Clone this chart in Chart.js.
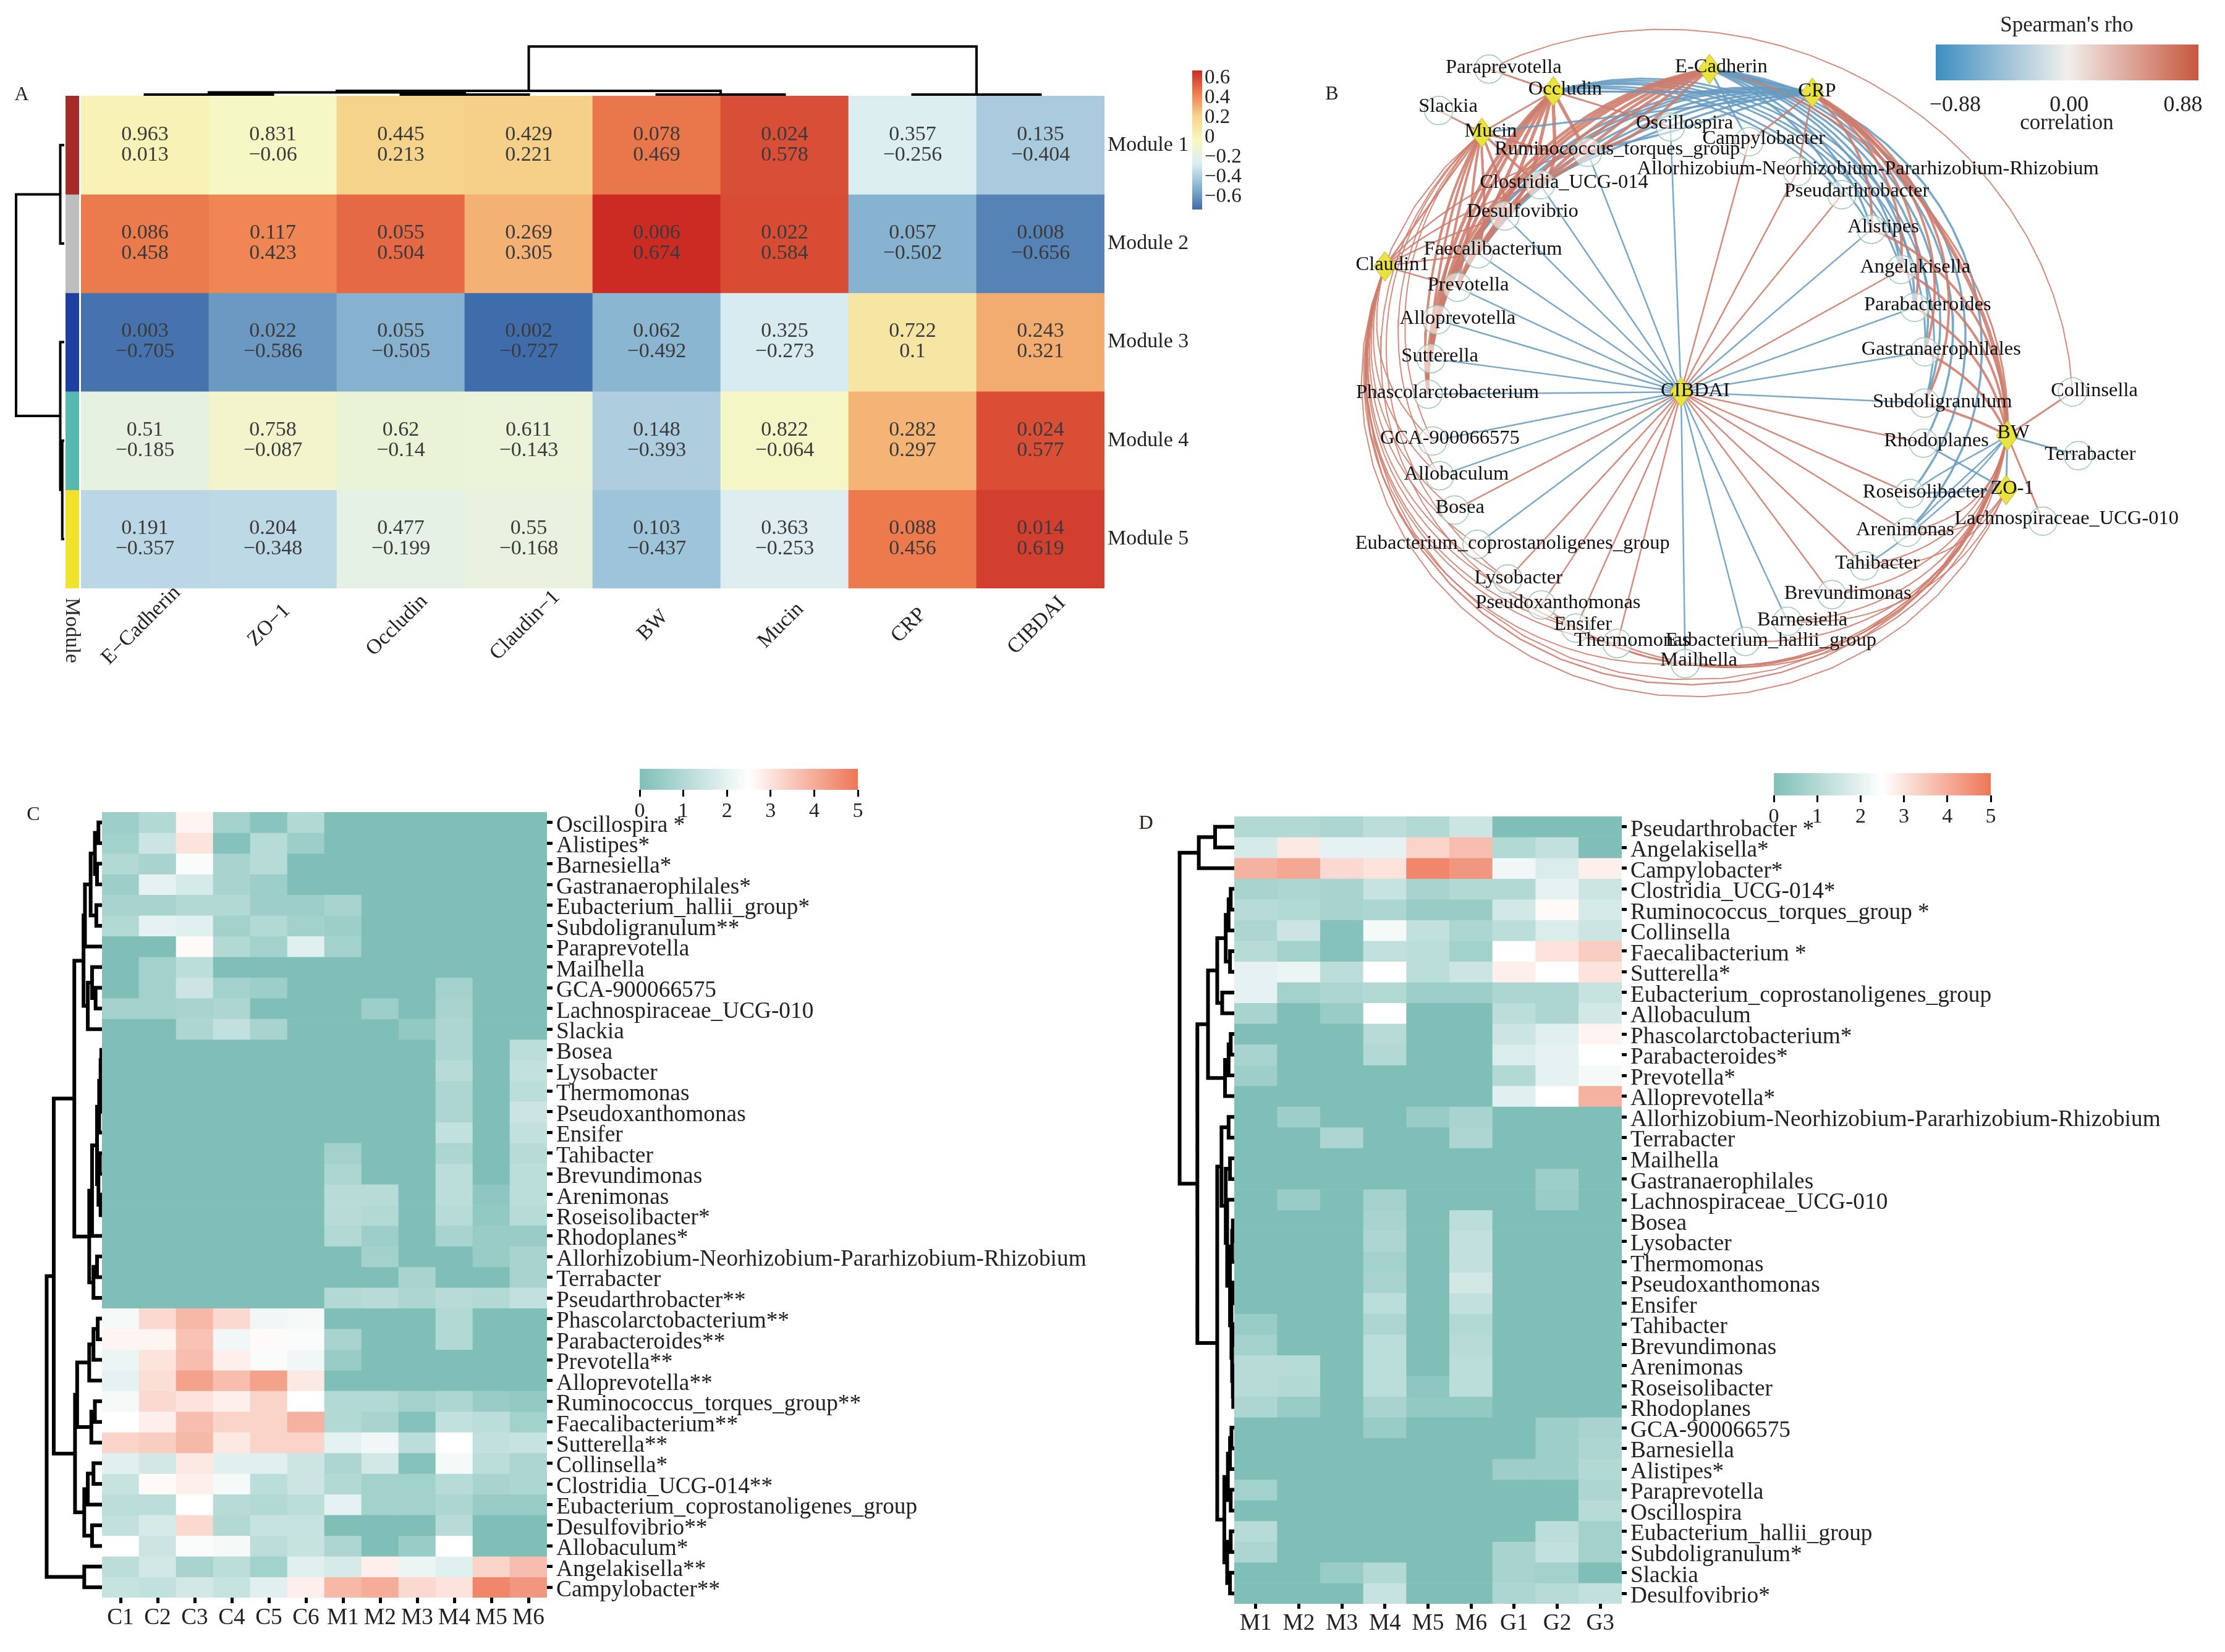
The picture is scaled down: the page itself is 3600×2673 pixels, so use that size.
<!DOCTYPE html>
<html><head><meta charset="utf-8">
<script src="https://cdn.jsdelivr.net/npm/chart.js@4"></script>
<style>
html,body{margin:0;padding:0;background:#fff}
#page{position:relative;width:3600px;height:2673px;background:#fff;overflow:hidden;font-family:'Liberation Serif',serif;color:#222}
canvas{position:absolute}
.t{position:absolute;transform:translate(-50%,-50%);white-space:nowrap}
</style></head><body><div id="page"></div>
<script>
/* ---------- Panel A data ---------- */
const aMarkers=["E−Cadherin","ZO−1","Occludin","Claudin−1","BW","Mucin","CRP","CIBDAI"];
const aModules=["Module 1","Module 2","Module 3","Module 4","Module 5"];
const aRho=[
[0.013,-0.06,0.213,0.221,0.469,0.578,-0.256,-0.404],
[0.458,0.423,0.504,0.305,0.674,0.584,-0.502,-0.656],
[-0.705,-0.586,-0.505,-0.727,-0.492,-0.273,0.1,0.321],
[-0.185,-0.087,-0.14,-0.143,-0.393,-0.064,0.297,0.577],
[-0.357,-0.348,-0.199,-0.168,-0.437,-0.253,0.456,0.619]];
const aP=[
[0.963,0.831,0.445,0.429,0.078,0.024,0.357,0.135],
[0.086,0.117,0.055,0.269,0.006,0.022,0.057,0.008],
[0.003,0.022,0.055,0.002,0.062,0.325,0.722,0.243],
[0.51,0.758,0.62,0.611,0.148,0.822,0.282,0.024],
[0.191,0.204,0.477,0.55,0.103,0.363,0.088,0.014]];
const aColorTicks=[0.6,0.4,0.2,0,-0.2,-0.4,-0.6];
const aModuleColors=["#A52A2A","#BEBEBE","#1E409E","#58B9B1","#EFE32E"];
const aTopTree=[118,[12,[8,[3,0,1],[3,2,3]],[3,4,5]],[3,6,7]];
const aLeftTree=[60,[5,0,1],[5,2,[2.5,3,4]]];

/* ---------- Panels C and D data ---------- */
const cCols=["C1","C2","C3","C4","C5","C6","M1","M2","M3","M4","M5","M6"];
const cRows=["Oscillospira *","Alistipes*","Barnesiella*","Gastranaerophilales*","Eubacterium_hallii_group*","Subdoligranulum**","Paraprevotella","Mailhella","GCA-900066575","Lachnospiraceae_UCG-010","Slackia","Bosea","Lysobacter","Thermomonas","Pseudoxanthomonas","Ensifer","Tahibacter","Brevundimonas","Arenimonas","Roseisolibacter*","Rhodoplanes*","Allorhizobium-Neorhizobium-Pararhizobium-Rhizobium","Terrabacter","Pseudarthrobacter**","Phascolarctobacterium**","Parabacteroides**","Prevotella**","Alloprevotella**","Ruminococcus_torques_group**","Faecalibacterium**","Sutterella**","Collinsella*","Clostridia_UCG-014**","Eubacterium_coprostanoligenes_group","Desulfovibrio**","Allobaculum*","Angelakisella**","Campylobacter**"];
const cValues=[
[.6,1,2.7,.7,.2,1,0,0,0,0,0,0],
[.7,1.5,3,.1,1.1,.6,0,0,0,0,0,0],
[1,.8,2.4,.8,1.1,0,0,0,0,0,0,0],
[.6,2,1.7,.8,.6,0,0,0,0,0,0,0],
[.8,.8,1,1,.6,.6,.8,0,0,0,0,0],
[1,2,1.9,.7,1,.7,.6,0,0,0,0,0],
[0,0,2.6,1,.7,1.9,.7,0,0,0,0,0],
[0,.7,1.2,0,0,0,0,0,0,0,0,0],
[0,.7,1.5,.7,.6,0,0,0,0,.7,0,0],
[.7,.7,.8,.9,0,0,0,.6,0,.8,0,0],
[0,0,.9,1.3,.8,0,0,0,.4,.9,0,0],
[0,0,0,0,0,0,0,0,0,.9,0,1.2],
[0,0,0,0,0,0,0,0,0,1.1,0,1.3],
[0,0,0,0,0,0,0,0,0,.9,0,1.2],
[0,0,0,0,0,0,0,0,0,.9,0,1.5],
[0,0,0,0,0,0,0,0,0,1.3,0,1.3],
[0,0,0,0,0,0,.7,0,0,.9,0,1.1],
[0,0,0,0,0,0,.9,0,0,1.2,0,1.2],
[0,0,0,0,0,0,1.1,1.1,0,1.2,.3,1.2],
[0,0,0,0,0,0,1.1,1,0,1.1,.4,1.1],
[0,0,0,0,0,0,1,.6,0,.8,.5,.5],
[0,0,0,0,0,0,0,.7,0,0,.5,.8],
[0,0,0,0,0,0,0,0,.8,0,0,.8],
[0,0,0,0,0,0,1,1.1,.9,1.1,1,1.3],
[2.3,3.2,3.8,3.2,2.2,2.3,0,0,0,1,0,0],
[2.7,2.7,3.6,2.2,2.6,2.4,.8,0,0,1,0,0],
[2.1,3,3.7,2.8,2.4,2.2,.5,0,0,0,0,0],
[2,3.1,4.2,3.7,4.2,2.9,0,0,0,0,0,0],
[2.3,3.2,3,2.8,3.3,2.5,1,1,.7,.9,.5,.4],
[2.5,2.8,3.7,3.3,3.3,3.9,1,.8,.1,1.3,1.2,.7],
[3.3,3.4,3.8,2.9,3.3,3.3,2,2.2,1.2,2.5,1.3,1.4],
[1.9,1.6,2.9,1.9,1.9,1.5,.9,1.6,.1,2.3,1.2,.9],
[1.4,2.6,2.8,2.3,1.2,1.5,1,.7,.7,1.1,.8,.9],
[1.2,1.2,2.5,1.1,1,1.2,2,.7,.7,.9,.5,.5],
[1.3,1.7,3.2,1,1.4,1.4,0,0,0,1.1,0,0],
[2.5,1.5,2.4,2.3,1.2,1.4,.9,0,.5,2.5,0,0],
[1.2,1.6,.8,1.2,.7,1.9,1.7,2.8,2.1,1.9,3.3,3.7],
[1.4,1.3,1.6,1.4,1.9,2.8,3.8,4,3.2,3,4.7,4.4]];
const cTree=[78,[68,
 [39,
  [26,[24,[16,[10,[5,0,1],[7,2,3]],[8,4,5]],6],[20,[14,7,[9,8,9]],10]],
  [18,[14,[7,[4,[2,[1,11,12],[1.5,13,14]],15],[5,[3,16,17],[2,18,19]]],20],[12,[7,21,22],23]]],
 [38,
  [35,[18,[12,[6,24,25],26],27],[15,[10,28,29],30]],
  [25,[20,[12,31,32],33],[14,34,35]]]],
 [25,36,37]];

const dCols=["M1","M2","M3","M4","M5","M6","G1","G2","G3"];
const dRows=["Pseudarthrobacter *","Angelakisella*","Campylobacter*","Clostridia_UCG-014*","Ruminococcus_torques_group *","Collinsella","Faecalibacterium *","Sutterella*","Eubacterium_coprostanoligenes_group","Allobaculum","Phascolarctobacterium*","Parabacteroides*","Prevotella*","Alloprevotella*","Allorhizobium-Neorhizobium-Pararhizobium-Rhizobium","Terrabacter","Mailhella","Gastranaerophilales","Lachnospiraceae_UCG-010","Bosea","Lysobacter","Thermomonas","Pseudoxanthomonas","Ensifer","Tahibacter","Brevundimonas","Arenimonas","Roseisolibacter","Rhodoplanes","GCA-900066575","Barnesiella","Alistipes*","Paraprevotella","Oscillospira","Eubacterium_hallii_group","Subdoligranulum*","Slackia","Desulfovibrio*"];
const dValues=[
[1,1,.9,1.2,1,1.5,0,0,0],
[1.7,2.9,2,2,3.3,3.7,1,1.3,0],
[3.9,4.1,3.2,3,4.7,4.4,2.2,1.8,2.8],
[.8,.9,.8,1.4,.8,1,1,2,1.5],
[1.1,1,.8,.9,.5,.5,1.6,2.6,1.7],
[.9,1.5,.1,2.3,1.3,.9,1.2,1.8,1.5],
[1.1,.7,.1,1.3,1.2,.7,2.5,3,3.4],
[2,2.1,1.2,2.5,1.2,1.5,2.8,2.5,3],
[2,.7,.9,1,.6,.6,.9,.9,1.4],
[.8,0,.5,2.5,0,0,1.2,.9,1.6],
[0,0,0,1.1,0,0,1.5,1.9,2.7],
[.8,0,0,1,0,0,1.8,2,2.5],
[.6,0,0,0,0,0,1,2,2.3],
[0,0,0,0,0,0,1.9,2.5,3.9],
[0,.6,0,0,.5,.8,0,0,0],
[0,0,.9,0,0,.9,0,0,0],
[0,0,0,0,0,0,0,0,0],
[0,0,0,0,0,0,0,.6,0],
[0,.5,0,.7,0,0,0,.5,0],
[0,0,0,.8,0,1.2,0,0,0],
[0,0,0,.9,0,1.3,0,0,0],
[0,0,0,.7,0,1.3,0,0,0],
[0,0,0,.8,0,1.6,0,0,0],
[0,0,0,1.2,0,1.3,0,0,0],
[.5,0,0,.9,0,1,0,0,0],
[.7,0,0,1.2,0,1.1,0,0,0],
[1.1,1.1,0,1.2,0,1.2,0,0,0],
[1.1,1,0,1.2,.3,1.2,0,0,0],
[.9,.5,0,.8,.4,.4,0,0,0],
[0,0,0,.5,0,0,0,.6,.8],
[0,0,0,0,0,0,0,.6,.9],
[0,0,0,0,0,0,.6,.6,1],
[.7,0,0,0,0,0,0,0,.9],
[0,0,0,0,0,0,0,0,1.1],
[1.1,0,0,0,0,0,0,1.2,.7],
[.9,0,0,0,0,0,.8,1.3,.7],
[0,0,.5,1,0,0,.8,.7,0],
[0,0,0,1.4,0,0,.9,1.1,1.3]];
const dTree=[77,[50,[27,0,1],2],[52,
 [37,[24,[12,[8,[5,3,4],5],[6,6,7]],[17,8,9]],[13,[8,[5,10,11],12],13]],
 [24,
  [18,[8,14,15],[12,[6,16,17],[10,18,[6,[3,[2,19,20],21],[4,[2,22,23],[3,[2,24,25],[2,26,[1.5,27,28]]]]]]]],
  [14,[9,[6,[4,29,30],31],[5,32,33]],[10,[5,34,35],[6,36,37]]]]]];
const heatTicks=[0,1,2,3,4,5];

/* ---------- Panel B data: name, node x, node y, label x, label y (read in layout units) ---------- */
const hubs=[["E-Cadherin",696,155,716,150],["CRP",870,208,878,205],["Occludin",432,205,452,200],["Mucin",311,298,326,295],["Claudin1",147,598,160,595],["BW",1200,978,1210,972],["ZO-1",1198,1100,1208,1097],["CIBDAI",648,880,672,878]];
const genera=[["Paraprevotella",323,155,348,152],["Slackia",238,248,254,240],["Oscillospira",630,285,654,277],["Campylobacter",763,318,788,312],["Ruminococcus_torques_group",490,342,540,335],["Allorhizobium-Neorhizobium-Pararhizobium-Rhizobium",845,385,964,380],["Pseudarthrobacter",920,437,945,430],["Clostridia_UCG-014",410,415,450,410],["Desulfovibrio",350,485,380,475],["Faecalibacterium",305,570,330,560],["Prevotella",270,645,288,640],["Alloprevotella",235,718,270,715],["Sutterella",225,805,240,800],["Phascolarctobacterium",220,885,253,882],["GCA-900066575",228,990,257,985],["Allobaculum",240,1068,268,1065],["Bosea",265,1145,274,1140],["Eubacterium_coprostanoligenes_group",303,1222,363,1220],["Lysobacter",355,1300,373,1298],["Pseudoxanthomonas",412,1358,440,1353],["Ensifer",470,1410,482,1402],["Thermomonas",540,1445,565,1438],["Mailhella",655,1490,678,1482],["Eubacterium_hallii_group",757,1440,800,1438],["Barnesiella",828,1395,853,1393],["Brevundimonas",903,1335,930,1333],["Tahibacter",958,1270,980,1265],["Arenimonas",1030,1195,1027,1190],["Roseisolibacter",1035,1108,1060,1105],["Rhodoplanes",1058,995,1080,990],["Subdoligranulum",1060,905,1090,902],["Gastranaerophilales",1060,790,1088,785],["Parabacteroides",1043,690,1065,685],["Angelakisella",1020,605,1044,600],["Alistipes",970,515,990,510],["Collinsella",1310,880,1347,878],["Terrabacter",1320,1023,1340,1020],["Lachnospiraceae_UCG-010",1260,1170,1300,1165]];
const spokeRed=["Campylobacter","Allorhizobium-Neorhizobium-Pararhizobium-Rhizobium","Pseudarthrobacter","Angelakisella","Rhodoplanes","Roseisolibacter","Arenimonas","Tahibacter","Brevundimonas","Thermomonas","Ensifer","Pseudoxanthomonas","Lysobacter","Bosea"];
const spokeBlue=["Oscillospira","Ruminococcus_torques_group","Clostridia_UCG-014","Desulfovibrio","Faecalibacterium","Prevotella","Alloprevotella","Sutterella","Phascolarctobacterium","GCA-900066575","Allobaculum","Eubacterium_coprostanoligenes_group","Mailhella","Eubacterium_hallii_group","Barnesiella","Subdoligranulum","Gastranaerophilales","Parabacteroides","Alistipes"];
const leftGenera=["Ruminococcus_torques_group","Clostridia_UCG-014","Desulfovibrio","Faecalibacterium","Prevotella","Alloprevotella","Sutterella","Phascolarctobacterium"];
const rightGenera=["Pseudarthrobacter","Alistipes","Angelakisella","Parabacteroides","Gastranaerophilales","Subdoligranulum","Rhodoplanes","Roseisolibacter","Arenimonas"];
const lowerLeft=["GCA-900066575","Allobaculum","Bosea","Eubacterium_coprostanoligenes_group","Lysobacter","Pseudoxanthomonas","Ensifer","Thermomonas","Mailhella"];
const lowerRight=["Mailhella","Thermomonas","Ensifer","Pseudoxanthomonas","Eubacterium_hallii_group","Barnesiella","Brevundimonas","Tahibacter","Arenimonas"];
/* edge groups: sources, targets, sign, width, bulge, forced direction */
const edgeGroups=[
 [["Claudin1"],lowerLeft,1,2,.04],
 [["Mucin"],["GCA-900066575","Allobaculum","Lysobacter","Ensifer"],1,2,.0],
 [["BW"],lowerRight,1,2.2,.05],
 [["ZO-1"],["Arenimonas","Tahibacter","Barnesiella"],1,2,.05],
 [["Claudin1"],["BW"],1,2.5,.04,1],
 [["Mucin"],["BW"],1,2,.03,1],
 [["Claudin1"],["ZO-1"],1,2,.05,1],
 [["Paraprevotella"],["Collinsella"],1,2,-.1],
 [["E-Cadherin"],rightGenera,-1,3.5,.0],
 [["Occludin"],rightGenera.slice(0,6),-1,3,-.03],
 [["CRP"],leftGenera,-1,3.5,-.09],
 [["BW"],["Arenimonas","Tahibacter","Roseisolibacter"],-1,2.5,-.03],
 [["E-Cadherin"],leftGenera,1,5,-.08],
 [["Occludin"],leftGenera,1,5.5,-.07],
 [["Mucin"],leftGenera,1,4,-.05],
 [["Claudin1"],leftGenera.slice(0,5),1,2.5,-.02],
 [["CRP"],rightGenera.slice(1,6),1,4,.02],
 [["BW"],rightGenera.slice(1,6),1,4,.02],
 [["CRP"],["BW"],1,6,-.1],
 [["E-Cadherin"],["BW"],1,3,-.1]
];
const straightEdges=[["Paraprevotella","Occludin",1],["Slackia","Mucin",1],["Collinsella","BW",1],["Terrabacter","BW",-1],["Lachnospiraceae_UCG-010","BW",1],["Occludin","Mucin",1],["Mucin","Claudin1",1],["Occludin","Oscillospira",1],["CRP","Campylobacter",1],["CRP","Allorhizobium-Neorhizobium-Pararhizobium-Rhizobium",1],["E-Cadherin","Campylobacter",-1],["E-Cadherin","CRP",-1],["E-Cadherin","CRP",-1],["Occludin","CRP",-1],["Occludin","CRP",-1],["Mucin","CRP",-1],["BW","ZO-1",-1],["Rhodoplanes","ZO-1",-1],["Roseisolibacter","ZO-1",-1]];

/* ---------- helpers ---------- */
const FONT="'Liberation Serif'";
Chart.defaults.font.family=FONT;
Chart.defaults.color="#222";
const page=document.getElementById('page');
function text(s,x,y,size,rot){const d=document.createElement('div');d.className='t';d.textContent=s;d.style.left=x+'px';d.style.top=y+'px';d.style.fontSize=size+'px';if(rot)d.style.transform='translate(-50%,-50%) rotate('+rot+'deg)';page.appendChild(d);}
function canvas(x,y,w,h){const c=document.createElement('canvas');c.width=w;c.height=h;c.style.left=x+'px';c.style.top=y+'px';c.style.width=w+'px';c.style.height=h+'px';page.appendChild(c);return c.getContext('2d');}
const base={responsive:false,animation:false,devicePixelRatio:1,events:[],plugins:{legend:{display:false},tooltip:{enabled:false}}};
function hex(h){return [1,3,5].map(i=>parseInt(h.substr(i,2),16));}
function ramp(stops,t){t=Math.max(0,Math.min(1,t));const p=t*(stops.length-1),i=Math.min(Math.floor(p),stops.length-2),f=p-i;const a=hex(stops[i]),b=hex(stops[i+1]);return 'rgb('+a.map((v,k)=>Math.round(v+(b[k]-v)*f)).join(',')+')';}
const aStops=["#3F6CAA","#8AB6D2","#DDEEF2","#F9F8BE","#F6D58C","#EE8050","#CB2B23"];
const aMin=-0.727,aMax=0.674;
const aColor=v=>ramp(aStops,(v-aMin)/(aMax-aMin));
const gStops=["#7FBFB8","#FFFFFF","#EE7656"];
const gColor=v=>ramp(gStops,v/5);
const minus=v=>String(v).replace('-','−');
const noPad=s=>{s.paddingLeft=s.paddingRight=s.paddingTop=s.paddingBottom=0;};

function heat(o){
 const n=o.matrix.length;
 const ds=o.matrix.map((row,r)=>({data:row.map(()=>[r,r+1]),backgroundColor:row.map(o.color),barPercentage:1,categoryPercentage:1,grouped:false,borderWidth:0}));
 const scales={
  x:{type:'category',labels:o.cols,offset:true,display:o.showX!==false,
     grid:{offset:false,drawOnChartArea:false,drawTicks:true,tickLength:o.tick||10,tickWidth:5,tickColor:'#000'},border:{display:false},
     ticks:{autoSkip:false,maxRotation:0,minRotation:0,padding:2,font:{size:o.fs},color:'#222'},afterFit:s=>{s.height=o.rect[3]-o.area[3];noPad(s);}},
  y:{type:'linear',min:0,max:n,reverse:true,display:false}
 };
 if(o.rows) scales.yr={type:'category',labels:o.rows,position:'right',offset:true,
     grid:{offset:false,drawOnChartArea:false,drawTicks:!!o.tick,tickLength:o.tick||0,tickWidth:5,tickColor:'#000'},border:{display:false},
     ticks:{autoSkip:false,padding:o.pad,labelOffset:o.tick?5:0,font:{size:o.fs},color:'#222'},afterFit:s=>{s.width=o.rect[2]-o.area[2];noPad(s);}};
 const ctx=canvas(o.rect[0],o.rect[1],o.rect[2]-o.rect[0],o.rect[3]-o.rect[1]);
 return new Chart(ctx,{type:'bar',data:{labels:o.cols,datasets:ds},plugins:o.plugins||[],options:{...base,
   layout:{padding:{left:o.area[0]-o.rect[0],top:o.area[1]-o.rect[1],right:o.rows?0:o.rect[2]-o.area[2],bottom:0}},scales}});
}
function treeSegs(t,pts){ // returns [position,height]
 if(typeof t==='number') return [t+.5,0];
 const a=treeSegs(t[1],pts),b=treeSegs(t[2],pts);
 pts.push([a[0],a[1]],[a[0],t[0]],[b[0],t[0]],[b[0],b[1]],[NaN,NaN]);
 return [(a[0]+b[0])/2,t[0]];
}
function dendro(tree,leaves,maxH,rect,horizontal,lw){
 const pts=[];treeSegs(tree,pts);
 const data=pts.map(p=>horizontal?{x:p[0],y:p[1]}:{x:p[1],y:p[0]});
 const ctx=canvas(rect[0],rect[1],rect[2]-rect[0],rect[3]-rect[1]);
 new Chart(ctx,{type:'scatter',data:{datasets:[{data,showLine:true,spanGaps:false,pointRadius:0,borderColor:'#000',borderWidth:lw,clip:false,borderCapStyle:'square'}]},
  options:{...base,layout:{padding:0,autoPadding:false},scales:horizontal?
   {x:{type:'linear',min:0,max:leaves,display:false},y:{type:'linear',min:0,max:maxH,display:false}}:
   {x:{type:'linear',min:0,max:maxH,reverse:true,display:false},y:{type:'linear',min:0,max:leaves,reverse:true,display:false}}}});
}
function colorbar(o){
 const grad=c=>{const ch=c.chart,a=ch.chartArea;if(!a)return '#ccc';const g=o.vertical?ch.ctx.createLinearGradient(0,a.bottom,0,a.top):ch.ctx.createLinearGradient(a.left,0,a.right,0);o.stops.forEach((s,i)=>g.addColorStop(i/(o.stops.length-1),s));return g;};
 const val={type:'linear',min:o.min,max:o.max,position:o.vertical?'right':'bottom',
   afterBuildTicks:s=>{s.ticks=o.ticks.map(v=>({value:v}))},
   grid:{drawOnChartArea:false,drawTicks:!!o.tick,tickLength:o.tick||0,tickWidth:3,tickColor:'#000'},border:{display:false},
   ticks:{autoSkip:false,maxRotation:0,padding:o.pad,font:{size:o.fs},color:'#222',callback:v=>o.fmt?o.fmt(v):minus(v)}};
 if(o.vertical) val.afterFit=s=>{s.width=o.rect[2]-o.area[2];noPad(s);}; else val.afterFit=s=>{s.height=o.rect[3]-o.area[3];noPad(s);};
 const cat={type:'category',labels:['bar'],display:false};
 const ctx=canvas(o.rect[0],o.rect[1],o.rect[2]-o.rect[0],o.rect[3]-o.rect[1]);
 new Chart(ctx,{type:'bar',data:{labels:['bar'],datasets:[{data:[[o.min,o.max]],backgroundColor:grad,barPercentage:1,categoryPercentage:1,borderWidth:0}]},
  options:{...base,indexAxis:o.vertical?'x':'y',layout:{padding:{left:o.area[0]-o.rect[0],top:o.area[1]-o.rect[1],right:o.vertical?0:o.rect[2]-o.area[2],bottom:o.vertical?o.rect[3]-o.area[3]:0}},
   scales:o.vertical?{x:cat,y:val}:{x:val,y:cat}}});
}

/* ---------- Panel A ---------- */
const cellText={id:'cellText',afterDatasetsDraw(ch){const c=ch.ctx,x=ch.scales.x,y=ch.scales.y;c.save();c.font="34px "+FONT;c.fillStyle='#3a3a3a';c.textAlign='center';c.textBaseline='middle';
 aP.forEach((row,r)=>row.forEach((p,k)=>{const px=x.getPixelForValue(k),py=y.getPixelForValue(r+.5);c.fillText(String(p),px,py-17);c.fillText(minus(aRho[r][k]),px,py+16);}));
 c.font="34px "+FONT;c.fillStyle='#222';
 aMarkers.forEach((m,k)=>{c.save();c.translate(x.getPixelForValue(k)-6,1012-155);c.rotate(-Math.PI/4);c.fillText(m,0,0);c.restore();});
 c.restore();}};
heat({matrix:aRho,cols:aMarkers,rows:aModules,color:aColor,rect:[131,155,1925,1100],area:[131,155,1787,952],fs:34,pad:5,showX:false,plugins:[cellText]});
heat({matrix:aModules.map((m,i)=>[i]),cols:['Module'],color:i=>aModuleColors[i],rect:[106,155,128,952],area:[106,155,128,952],fs:10,showX:false});
dendro(aTopTree,8,140.5,[131,60,1787,155],true,4);
dendro(aLeftTree,5,80,[0,155,104,952],false,4);
colorbar({vertical:true,min:aMin,max:aMax,ticks:aColorTicks,stops:aStops,rect:[1929,104,2010,349],area:[1929,114,1945,339],fs:33,pad:4});

/* ---------- Panel B ---------- */
const pos={};[...hubs,...genera].forEach(n=>pos[n[0]]=[n[1],n[2]]);
const RED='rgba(206,124,108,.88)',BLUE='rgba(104,156,192,.88)';
const CX=672,CY=820,RA=530,RB=670;
function arc(p,q,bulge,force){
 const ax=(p[0]-CX)/RA,ay=(p[1]-CY)/RB,bx=(q[0]-CX)/RA,by=(q[1]-CY)/RB;
 const r0=Math.hypot(ax,ay),r1=Math.hypot(bx,by),a0=Math.atan2(ay,ax);let a1=Math.atan2(by,bx),d=a1-a0;
 while(d>Math.PI)d-=2*Math.PI;while(d<-Math.PI)d+=2*Math.PI;
 if(force===1&&d>0)d-=2*Math.PI;if(force===-1&&d<0)d+=2*Math.PI;
 const out=[];for(let i=0;i<=24;i++){const t=i/24,r=r0+(r1-r0)*t+bulge*Math.sin(Math.PI*t),a=a0+d*t;out.push({x:CX+RA*r*Math.cos(a),y:CY+RB*r*Math.sin(a)});}
 return out;
}
const netDatasets=[];
const line=(data,sign,w,order)=>netDatasets.push({data,showLine:true,pointRadius:0,borderColor:sign>0?RED:BLUE,borderWidth:w,clip:false,order:order});
edgeGroups.forEach(g=>g[0].forEach(s=>g[1].forEach(t=>{
  if(pos[s]&&pos[t]) line(arc(pos[s],pos[t],g[4],g[5]),g[2],g[3],5+(g[2]>0?0:1));})));
straightEdges.forEach(e=>line([{x:pos[e[0]][0],y:pos[e[0]][1]},{x:pos[e[1]][0],y:pos[e[1]][1]}],e[2],3,4));
const hub=pos.CIBDAI;
spokeRed.forEach(g=>line([{x:hub[0],y:hub[1]},{x:pos[g][0],y:pos[g][1]}],1,2.5,3));
spokeBlue.forEach(g=>line([{x:hub[0],y:hub[1]},{x:pos[g][0],y:pos[g][1]}],-1,2.5,3));
netDatasets.push({data:genera.map(n=>({x:n[1],y:n[2]})),pointStyle:'circle',pointRadius:23,pointBorderWidth:1.5,pointBorderColor:'#9CC8B0',pointBackgroundColor:'rgba(255,255,255,.55)',clip:false,order:2});
const diamond=document.createElement('canvas');diamond.width=38;diamond.height=50;
(()=>{const c=diamond.getContext('2d');c.fillStyle='#E9E33E';c.strokeStyle='#B9AF3A';c.lineWidth=1;c.beginPath();c.moveTo(19,1);c.lineTo(37,25);c.lineTo(19,49);c.lineTo(1,25);c.closePath();c.fill();c.stroke();})();
netDatasets.push({data:hubs.map(n=>({x:n[1],y:n[2]})),pointStyle:diamond,pointRadius:25,clip:false,order:1});
const netLabels={id:'netLabels',afterDatasetsDraw(ch){const c=ch.ctx,x=ch.scales.x,y=ch.scales.y;c.save();c.font="32.5px "+FONT;c.fillStyle='#111';c.textAlign='center';c.textBaseline='middle';
 [...genera,...hubs].forEach(n=>c.fillText(n[0],x.getPixelForValue(n[3]),y.getPixelForValue(n[4])));c.restore();}};
new Chart(canvas(2100,0,1500,1190),{type:'scatter',data:{datasets:netDatasets},plugins:[netLabels],options:{...base,layout:{padding:0,autoPadding:false},
  scales:{x:{type:'linear',min:0,max:1568,display:false},y:{type:'linear',min:0,max:1568*1190/1130,reverse:true,display:false}}}});
colorbar({min:-1.03,max:1,ticks:[-0.88,0,0.88],stops:["#3D8EC0","#F1EFEC","#C8563F"],fmt:v=>minus(v.toFixed(2)),rect:[3070,72,3600,190],area:[3132,72,3557,130],fs:36,pad:19});
text("Spearman's rho",3344,40,35);
text("correlation",3344,198,35);

/* ---------- Panels C, D ---------- */
heat({matrix:cValues,cols:cCols,rows:cRows,color:gColor,rect:[165,1314,1790,2650],area:[165,1314,885,2585],fs:37.3,tick:9,pad:6});
dendro(cTree,38,91.5,[60,1314,165,2585],false,6);
colorbar({min:0,max:5,ticks:heatTicks,stops:gStops,rect:[1000,1244,1420,1330],area:[1035,1244,1388,1278],fs:34,tick:11,pad:4});
heat({matrix:dValues,cols:dCols,rows:dRows,color:gColor,rect:[1997,1321,3560,2660],area:[1997,1321,2624,2595],fs:37.3,tick:8,pad:6});
dendro(dTree,38,84.5,[1900,1321,1997,2595],false,6);
colorbar({min:0,max:5,ticks:heatTicks,stops:gStops,rect:[2835,1251,3255,1335],area:[2870,1251,3221,1287],fs:34,tick:11,pad:4});

text("A",35,151,32);text("B",2155,150,32);text("C",54,1316,32);text("D",1854,1330,32);
text("Module",118,1020,34,90);
</script></body></html>
